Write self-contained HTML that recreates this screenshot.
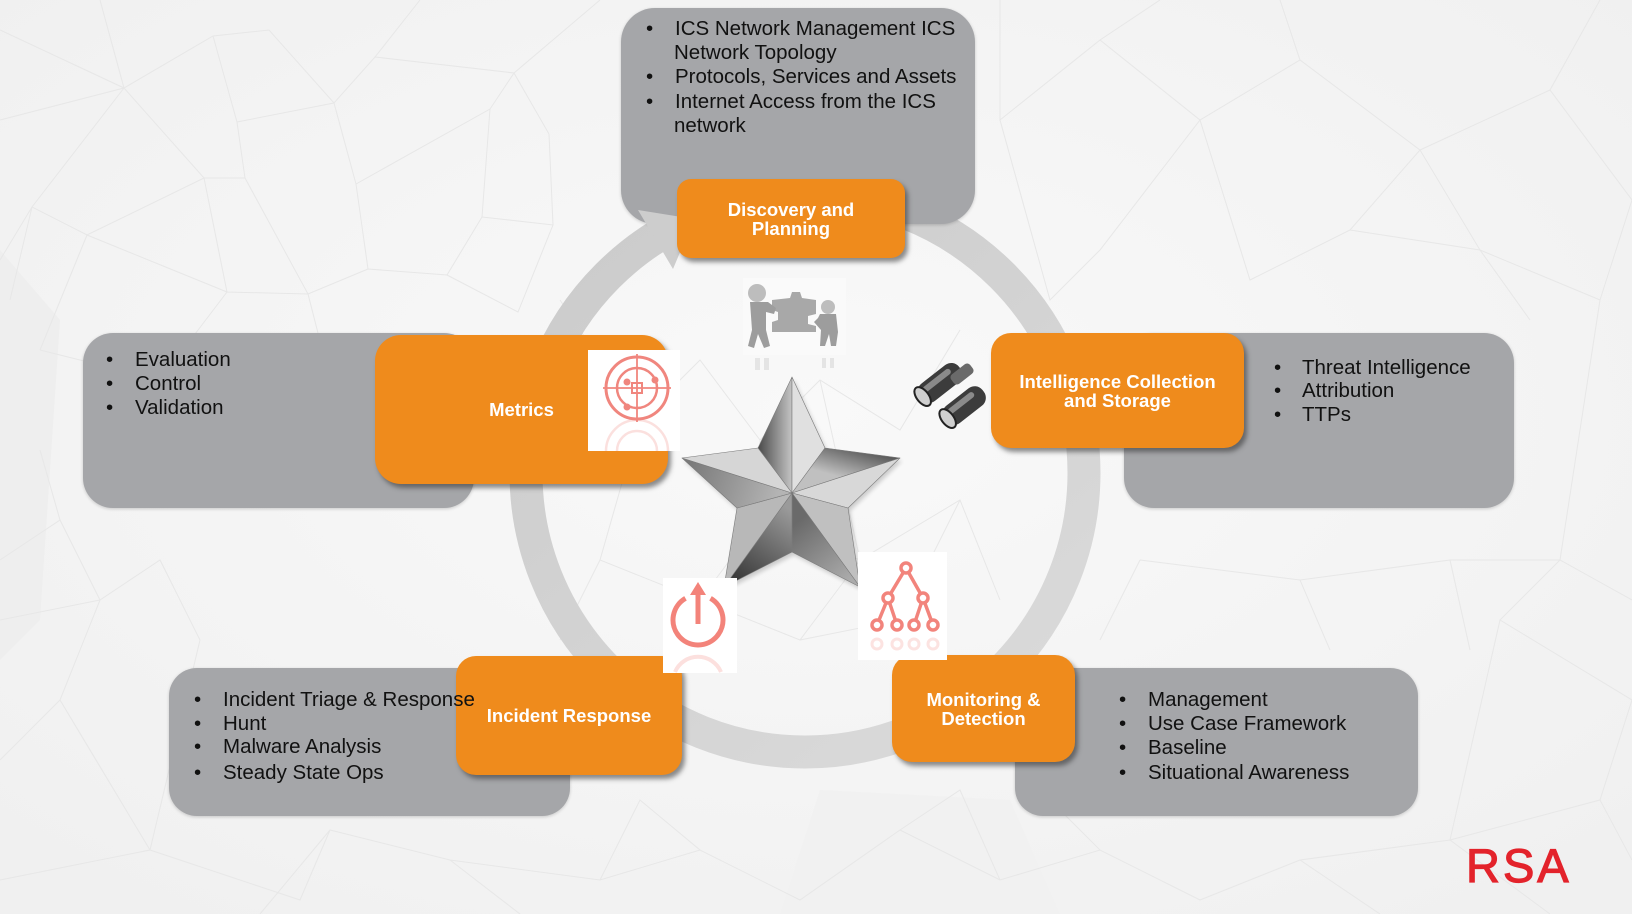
<!DOCTYPE html>
<html><head><meta charset="utf-8">
<style>
html,body{margin:0;padding:0;}
body{width:1632px;height:914px;position:relative;overflow:hidden;background:#f4f4f4;font-family:"Liberation Sans",Arial,sans-serif;}
svg{position:absolute;left:0;top:0;}
.gray{position:absolute;background:#a5a6a9;border-radius:32px;box-shadow:0 1px 3px rgba(0,0,0,0.18);z-index:1;}
.org{position:absolute;background:#ef8b1c;border-radius:20px;box-shadow:3px 4px 5px rgba(50,50,50,0.55);color:#fff;font-weight:bold;font-size:18.5px;line-height:19px;text-align:center;display:flex;align-items:center;justify-content:center;z-index:3;}
.ln{position:absolute;font-size:20.5px;line-height:24px;height:24px;color:#111;white-space:nowrap;z-index:5;}
</style></head><body>

<!-- background + ring -->
<svg width="1632" height="914" style="z-index:0">
  <defs>
    <radialGradient id="bgg" cx="0.5" cy="0.45" r="0.7">
      <stop offset="0" stop-color="#f9f9f9"/>
      <stop offset="1" stop-color="#f0f0f0"/>
    </radialGradient>
    <linearGradient id="ringg" gradientUnits="userSpaceOnUse" x1="560" y1="200" x2="1000" y2="760">
      <stop offset="0" stop-color="#cbcbcb"/>
      <stop offset="1" stop-color="#dadada"/>
    </linearGradient>
  </defs>
  <rect width="1632" height="914" fill="url(#bgg)"/>
  <polygon points="0,250 60,320 40,620 0,660" fill="#eeeeee"/>
  <polygon points="820,790 1010,800 1060,914 780,914" fill="#f1f1f1"/>
  <g stroke="#e7e7e7" stroke-width="1" fill="none">
    <path d="M0 30 L124 88 L213 36 L269 30 L334 103 L375 57 L514 73 L549 134 M124 88 L204 178 L245 178 L237 122 L213 36 M237 122 L334 103 L356 184 L490 109 L514 73 M356 184 L368 269 L447 275 L482 217 L490 109 M124 88 L32 207 L87 235 L204 178 L227 292 L308 294 L368 269 M87 235 L227 292 M245 178 L308 294 M482 217 L553 225 L549 134 M447 275 L518 312 L553 225 M32 207 L0 260 M87 235 L40 350 M227 292 L160 380 M308 294 L330 380 M100 0 L124 88 M375 57 L420 0 M514 73 L600 0 M0 120 L124 88 M32 207 L10 300 M160 380 L40 350 M160 380 L90 440 M330 380 L260 460 M160 380 L260 460"/>
    <path d="M0 560 L60 520 L40 450 M60 520 L100 600 L60 700 L0 760 M100 600 L160 560 L200 640 M60 700 L150 850 L0 880 M150 850 L300 900 L330 830 L450 860 L600 880 L700 850 L800 900 L900 830 L1000 880 L1100 850 L1200 900 L1300 860 L1450 840 L1550 914 M330 830 L260 914 M450 860 L520 914 M700 850 L640 800 L600 880 M900 830 L960 790 L1000 880 M1100 850 L1050 800 M1300 860 L1380 914 M1450 840 L1600 800 L1632 860 M1600 800 L1632 700 L1500 620 L1450 840 M1500 620 L1560 560 L1632 600 M200 640 L150 850 M100 600 L0 620"/>
    <path d="M1000 0 L1000 120 L1100 40 L1200 120 L1300 60 L1420 150 L1550 90 L1632 200 L1600 300 L1480 250 L1420 150 M1480 250 L1350 230 L1420 150 M1350 230 L1250 280 L1200 120 M1100 40 L1160 0 M1300 60 L1280 0 M1550 90 L1600 0 M1000 120 L1050 300 L1100 250 L1200 120 M1600 300 L1560 560 M1480 250 L1530 320 M1140 560 L1300 580 L1450 560 L1560 560 M1140 560 L1100 640 M1300 580 L1330 650 M1450 560 L1470 650"/>
    <path d="M560 300 L640 420 L700 360 L760 440 L820 380 L900 430 L960 330 M640 420 L600 560 L700 600 L760 520 L860 560 L960 500 L1000 600 M700 600 L800 640 L860 560 M800 640 L900 620 L960 500 M600 560 L560 640 M760 440 L760 520 M820 380 L860 560"/>
  </g>
  <circle cx="805" cy="473" r="279" fill="none" stroke="url(#ringg)" stroke-width="33"/>
</svg>

<!-- gray boxes -->
<div class="gray" style="left:621px;top:8px;width:354px;height:216px;border-radius:34px;"></div>
<div class="gray" style="left:83px;top:333px;width:391px;height:175px;border-radius:30px;"></div>
<div class="gray" style="left:1124px;top:333px;width:390px;height:175px;border-radius:30px;"></div>
<div class="gray" style="left:169px;top:668px;width:401px;height:148px;border-radius:28px;"></div>
<div class="gray" style="left:1015px;top:668px;width:403px;height:148px;border-radius:28px;"></div>

<!-- arrowhead -->
<svg width="1632" height="914" style="z-index:2">
  <polygon points="638,210 673,269 694,219" fill="#cdcdcd"/>
</svg>

<!-- orange boxes -->
<div class="org" style="left:677px;top:179px;width:228px;height:79px;border-radius:14px;">Discovery and<br>Planning</div>
<div class="org" style="left:375px;top:335px;width:293px;height:149px;border-radius:26px;">Metrics</div>
<div class="org" style="left:991px;top:333px;width:253px;height:115px;">Intelligence Collection<br>and Storage</div>
<div class="org" style="left:456px;top:656px;width:226px;height:119px;">Incident Response</div>
<div class="org" style="left:892px;top:655px;width:183px;height:107px;">Monitoring &amp;<br>Detection</div>

<!-- icons, star, logo -->
<svg width="1632" height="914" style="z-index:4">
  <defs>
    <linearGradient id="s1" gradientUnits="userSpaceOnUse" x1="758" y1="440" x2="792" y2="440"><stop offset="0" stop-color="#4a4a4a"/><stop offset="1" stop-color="#c4c4c4"/></linearGradient>
    <linearGradient id="s3" gradientUnits="userSpaceOnUse" x1="860" y1="445" x2="850" y2="480"><stop offset="0" stop-color="#505050"/><stop offset="1" stop-color="#c0c0c0"/></linearGradient>
    <linearGradient id="s5" gradientUnits="userSpaceOnUse" x1="800" y1="520" x2="850" y2="580"><stop offset="0" stop-color="#6a6a6a"/><stop offset="1" stop-color="#ababab"/></linearGradient>
    <linearGradient id="s6" gradientUnits="userSpaceOnUse" x1="790" y1="510" x2="740" y2="580"><stop offset="0" stop-color="#9a9a9a"/><stop offset="1" stop-color="#3c3c3c"/></linearGradient>
    <linearGradient id="s8" gradientUnits="userSpaceOnUse" x1="690" y1="460" x2="780" y2="490"><stop offset="0" stop-color="#7a7a7a"/><stop offset="1" stop-color="#b4b4b4"/></linearGradient>
    <filter id="sh" x="-20%" y="-20%" width="140%" height="140%"><feGaussianBlur stdDeviation="2"/></filter>
  </defs>

  <!-- star shadow -->
  <polygon points="794,380 827,451 902,461 850,511 862,590 794,555 726,590 739,511 684,461 760,451" fill="#000" opacity="0.18" filter="url(#sh)"/>
  <!-- star faces -->
  <g stroke="#7a7a7a" stroke-width="0.6" stroke-linejoin="round">
    <polygon points="792,377 758,448 792,493" fill="url(#s1)"/>
    <polygon points="792,377 825,448 792,493" fill="#e0e0e0"/>
    <polygon points="900,458 825,448 792,493" fill="url(#s3)"/>
    <polygon points="900,458 848,508 792,493" fill="#d8d8d8"/>
    <polygon points="860,587 848,508 792,493" fill="#c0c0c0"/>
    <polygon points="860,587 792,552 792,493" fill="url(#s5)"/>
    <polygon points="724,587 792,552 792,493" fill="url(#s6)"/>
    <polygon points="724,587 737,508 792,493" fill="#b8b8b8"/>
    <polygon points="682,458 737,508 792,493" fill="url(#s8)"/>
    <polygon points="682,458 758,448 792,493" fill="#d6d6d6"/>
  </g>

  <!-- people icon -->
  <rect x="743" y="278" width="103" height="77" fill="#fafafa"/>
  <g fill="#d8d8d8" opacity="0.6">
    <rect x="755" y="358" width="5" height="12"/><rect x="764" y="358" width="5" height="12"/>
    <rect x="822" y="358" width="4" height="10"/><rect x="830" y="358" width="4" height="10"/>
  </g>
  <path d="M772 300 L790 298 L792 292 L800 292 L802 298 L816 300 L816 314 L808 316 L808 324 L816 326 L816 332 L772 332 L772 322 L778 320 L778 312 L772 310 Z" fill="#a8a8a8"/>
  <circle cx="757" cy="293" r="9" fill="#bdbdbd"/>
  <path d="M750 302 L768 302 L776 308 L774 314 L766 312 L766 330 L770 346 L764 348 L758 334 L754 348 L748 346 L752 330 Z" fill="#9d9d9d"/>
  <circle cx="828" cy="307" r="7" fill="#bdbdbd"/>
  <path d="M820 314 L836 314 L838 332 L836 346 L831 346 L829 334 L825 346 L820 346 L821 330 L814 322 L818 318 Z" fill="#9d9d9d"/>

  <!-- target icon -->
  <rect x="588" y="350" width="92" height="101" fill="#ffffff"/>
  <g stroke="#f0867e" fill="none">
    <circle cx="637" cy="388" r="31" stroke-width="3"/>
    <circle cx="637" cy="388" r="20" stroke-width="2.5"/>
    <rect x="632" y="383" width="10" height="10" stroke-width="2"/>
    <line x1="637" y1="354" x2="637" y2="422" stroke-width="1.8"/>
    <line x1="603" y1="388" x2="671" y2="388" stroke-width="1.8"/>
  </g>
  <g fill="#f0867e"><circle cx="627" cy="382" r="3.5"/><circle cx="655" cy="380" r="3.5"/><circle cx="627" cy="407" r="3.5"/></g>
  <g stroke="#f0867e" fill="none" opacity="0.25" stroke-width="2.5">
    <path d="M606 451 A31 31 0 0 1 668 451"/><path d="M617 451 A20 20 0 0 1 657 451"/>
  </g>

  <!-- power icon -->
  <rect x="663" y="578" width="74" height="95" fill="#ffffff"/>
  <path d="M710.5 598.3 A25 25 0 1 1 685.5 598.3" fill="none" stroke="#f3837a" stroke-width="5"/>
  <line x1="698" y1="624" x2="698" y2="592" stroke="#f3837a" stroke-width="5"/>
  <polygon points="690,595 706,595 698,582" fill="#f3837a"/>
  <path d="M675 672 A25 25 0 0 1 721 672" fill="none" stroke="#f3837a" stroke-width="4" opacity="0.25"/>

  <!-- hierarchy icon -->
  <rect x="858" y="552" width="89" height="108" fill="#ffffff"/>
  <g stroke="#f2847c" stroke-width="3.5" fill="none">
    <path d="M906 568 L888 598 M906 568 L923 598 M888 598 L877 625 M888 598 L897 625 M923 598 L914 625 M923 598 L933 625"/>
  </g>
  <g stroke="#f2847c" stroke-width="3.5" fill="#fff">
    <circle cx="906" cy="568" r="5"/><circle cx="888" cy="598" r="5"/><circle cx="923" cy="598" r="5"/>
    <circle cx="877" cy="625" r="5"/><circle cx="897" cy="625" r="5"/><circle cx="914" cy="625" r="5"/><circle cx="933" cy="625" r="5"/>
  </g>
  <g stroke="#f2847c" stroke-width="3" fill="none" opacity="0.22">
    <circle cx="877" cy="644" r="5"/><circle cx="897" cy="644" r="5"/><circle cx="914" cy="644" r="5"/><circle cx="933" cy="644" r="5"/>
  </g>

  <!-- binoculars -->
  <g>
    <g transform="rotate(-38 940 383)">
      <rect x="915" y="372" width="50" height="22" rx="10" fill="#3c3c3c"/>
      <rect x="922" y="376" width="34" height="6" rx="3" fill="#8a8a8a"/>
      <ellipse cx="918" cy="383" rx="6" ry="11" fill="#cfcfcf" stroke="#222" stroke-width="2"/>
    </g>
    <g transform="rotate(-38 965 405)">
      <rect x="940" y="394" width="48" height="22" rx="10" fill="#3c3c3c"/>
      <rect x="947" y="398" width="32" height="6" rx="3" fill="#8a8a8a"/>
      <ellipse cx="943" cy="405" rx="6" ry="11" fill="#cfcfcf" stroke="#222" stroke-width="2"/>
    </g>
    <rect x="950" y="368" width="24" height="12" rx="4" fill="#6a6a6a" transform="rotate(-38 962 374)"/>
  </g>

  <!-- RSA logo -->
  <text x="1466" y="882" font-family="Liberation Sans, Arial, sans-serif" font-size="47" fill="#e3232b" stroke="#e3232b" stroke-width="1.2" letter-spacing="3">RSA</text>
</svg>

<!-- top text -->
<div class="ln" style="left:646px;top:17px;">•</div><div class="ln" style="left:675px;top:17px;">ICS Network Management ICS</div>
<div class="ln" style="left:674px;top:41px;">Network Topology</div>
<div class="ln" style="left:646px;top:65px;">•</div><div class="ln" style="left:675px;top:65px;">Protocols, Services and Assets</div>
<div class="ln" style="left:646px;top:90px;">•</div><div class="ln" style="left:675px;top:90px;">Internet Access from the ICS</div>
<div class="ln" style="left:674px;top:114px;">network</div>

<!-- left text -->
<div class="ln" style="left:106px;top:348px;">•</div><div class="ln" style="left:135px;top:348px;">Evaluation</div>
<div class="ln" style="left:106px;top:372px;">•</div><div class="ln" style="left:135px;top:372px;">Control</div>
<div class="ln" style="left:106px;top:396px;">•</div><div class="ln" style="left:135px;top:396px;">Validation</div>

<!-- right text -->
<div class="ln" style="left:1274px;top:356px;">•</div><div class="ln" style="left:1302px;top:356px;">Threat Intelligence</div>
<div class="ln" style="left:1274px;top:379px;">•</div><div class="ln" style="left:1302px;top:379px;">Attribution</div>
<div class="ln" style="left:1274px;top:403px;">•</div><div class="ln" style="left:1302px;top:403px;">TTPs</div>

<!-- bottom-left text -->
<div class="ln" style="left:194px;top:688px;">•</div><div class="ln" style="left:223px;top:688px;">Incident Triage &amp; Response</div>
<div class="ln" style="left:194px;top:712px;">•</div><div class="ln" style="left:223px;top:712px;">Hunt</div>
<div class="ln" style="left:194px;top:735px;">•</div><div class="ln" style="left:223px;top:735px;">Malware Analysis</div>
<div class="ln" style="left:194px;top:761px;">•</div><div class="ln" style="left:223px;top:761px;">Steady State Ops</div>

<!-- bottom-right text -->
<div class="ln" style="left:1119px;top:688px;">•</div><div class="ln" style="left:1148px;top:688px;">Management</div>
<div class="ln" style="left:1119px;top:712px;">•</div><div class="ln" style="left:1148px;top:712px;">Use Case Framework</div>
<div class="ln" style="left:1119px;top:736px;">•</div><div class="ln" style="left:1148px;top:736px;">Baseline</div>
<div class="ln" style="left:1119px;top:761px;">•</div><div class="ln" style="left:1148px;top:761px;">Situational Awareness</div>

</body></html>
